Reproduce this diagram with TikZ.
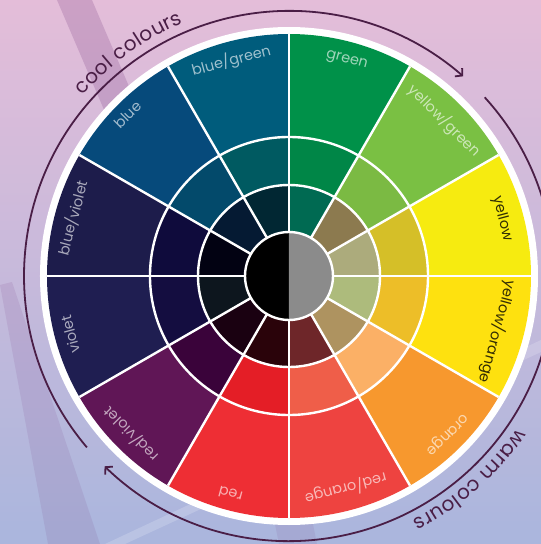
\documentclass[tikz,border=0pt]{standalone}
\usepackage{fontspec}
\usepackage{tikz}
\usetikzlibrary{arrows.meta,decorations.text}

\newfontfamily\wheelfont{Poppins}

\definecolor{sweepcol}{RGB}{74,30,70}
\definecolor{midgrey}{HTML}{8B8B8B}
% outer / middle / inner ring colours
\definecolor{grnO}{HTML}{009149}\definecolor{grnM}{HTML}{008647}\definecolor{grnI}{HTML}{006A52}
\definecolor{ygO}{HTML}{7AC043}\definecolor{ygM}{HTML}{7BBA43}\definecolor{ygI}{HTML}{8C7A4F}
\definecolor{yelO}{HTML}{F6EB10}\definecolor{yelM}{HTML}{D5BF28}\definecolor{yelI}{HTML}{ACAB7C}
\definecolor{yoO}{HTML}{FEE10F}\definecolor{yoM}{HTML}{EDBE28}\definecolor{yoI}{HTML}{ADBB7C}
\definecolor{orO}{HTML}{F7982E}\definecolor{orM}{HTML}{FBB066}\definecolor{orI}{HTML}{AE9360}
\definecolor{roO}{HTML}{EE4340}\definecolor{roM}{HTML}{EF5E49}\definecolor{roI}{HTML}{6E2629}
\definecolor{redO}{HTML}{EE2E34}\definecolor{redM}{HTML}{E41E26}\definecolor{redI}{HTML}{2A030A}
\definecolor{rvO}{HTML}{601656}\definecolor{rvM}{HTML}{3A033A}\definecolor{rvI}{HTML}{1A0111}
\definecolor{vioO}{HTML}{1F1E51}\definecolor{vioM}{HTML}{140D40}\definecolor{vioI}{HTML}{0D161E}
\definecolor{bvO}{HTML}{1D1C4B}\definecolor{bvM}{HTML}{0F0B3C}\definecolor{bvI}{HTML}{020212}
\definecolor{bluO}{HTML}{064A7B}\definecolor{bluM}{HTML}{034A6B}\definecolor{bluI}{HTML}{051A33}
\definecolor{bgO}{HTML}{005C7C}\definecolor{bgM}{HTML}{005A61}\definecolor{bgI}{HTML}{012733}

\begin{document}
\begin{tikzpicture}[x=1pt, y=1pt,
        seglab/.style={font=\wheelfont\fontsize{14.5}{14.5}\selectfont, inner sep=0pt},
        lightlab/.style={seglab, text=white, text opacity=0.62},
        darklab/.style={seglab, text=black, text opacity=0.8},
        ringline/.style={white, line width=2.4pt},
        sweep/.style={sweepcol, line width=1.8pt, -{Straight Barb[length=5pt,width=11pt]}},
        band/.style={fill={rgb,255:red,120;green,60;blue,130}, fill opacity=0.22}]
                \useasboundingbox (-289,-268) rectangle (252,276);
                % backdrop
                \fill[top color={rgb,255:red,228;green,189;blue,217}, middle color={rgb,255:red,210;green,188;blue,220},
                        bottom color={rgb,255:red,170;green,182;blue,221}] (-289,-268) rectangle (252,276);
                \fill[band] (-232,276) -- (-197,276) -- (-137,136) -- (-172,136) -- cycle;
                \fill[band, fill opacity=0.12] (-289,-9) -- (-277,-6) -- (-189,-268) -- (-241,-268) -- cycle;
                \fill[band, fill opacity=0.1] (-14,-248) -- (24,-248) -- (28,-268) -- (-10,-268) -- cycle;
                \fill[white, fill opacity=0.18] (-184,-268) -- (-164,-268) -- (252,-76) -- (252,-64) -- cycle;

                % wheel
                \fill[white] (0,0) circle[radius=249];
                \foreach \a/\co/\cm/\ci in {90/grnO/grnM/grnI, 60/ygO/ygM/ygI, 30/yelO/yelM/yelI,
                        0/yoO/yoM/yoI, -30/orO/orM/orI, -60/roO/roM/roI, -90/redO/redM/redI,
                        -120/rvO/rvM/rvI, -150/vioO/vioM/vioI, 180/bvO/bvM/bvI, 150/bluO/bluM/bluI,
                        120/bgO/bgM/bgI}{
                        \fill[\co] (0,0) -- (\a:242) arc[start angle=\a, delta angle=-30, radius=242] -- cycle;
                        \fill[\cm] (0,0) -- (\a:139) arc[start angle=\a, delta angle=-30, radius=139] -- cycle;
                        \fill[\ci] (0,0) -- (\a:91) arc[start angle=\a, delta angle=-30, radius=91] -- cycle;
                }
                \fill[black] (0,44) arc[start angle=90, end angle=270, radius=44] -- cycle;
                \fill[midgrey] (0,-44) arc[start angle=-90, end angle=90, radius=44] -- cycle;
                \foreach \a in {0,30,...,330}
                        \draw[ringline] (\a:44) -- (\a:242);
                \draw[ringline] (0,0) circle[radius=44] (0,0) circle[radius=91] (0,0) circle[radius=139];

                % names of the hues
                \node[lightlab, rotate=-15] (GRN) at (75:223) {green};
                \node[lightlab, rotate=-45] (YG) at (45:220) {yellow/green};
                \node[darklab, rotate=-75] (YEL) at (15:221) {yellow};
                \node[darklab, rotate=-105] (YO) at (-15:216) {yellow/orange};
                \node[lightlab, rotate=-135] (OR) at (-45:223) {orange};
                \node[lightlab, rotate=-165] (RO) at (-75:220) {red/orange};
                \node[lightlab, rotate=-195] (RED) at (-105:226) {red};
                \node[lightlab, rotate=-225] (RV) at (-135:224) {red/violet};
                \node[lightlab, rotate=-255] (VIO) at (-165:226) {violet};
                \node[lightlab, rotate=75] (BV) at (165:224) {blue/violet};
                \node[lightlab, rotate=45] (BLU) at (135:228) {blue};
                \node[lightlab, rotate=15] (BG) at (105:223) {blue/green};

                % cool and warm sweeps
                \draw[sweep] (220.3:265) arc[start angle=220.3, end angle=48.9, radius=265];
                \draw[sweep] (42.4:265) arc[start angle=42.4, end angle=-134.1, radius=265];
                \path[decorate, decoration={text along path, text align=center, raise=9pt, text color=sweepcol,
                        text={|\wheelfont\fontsize{20}{20}\selectfont|cool colours}}]
                        (150:265) arc[start angle=150, end angle=101.6, radius=265];
                \path[decorate, decoration={text along path, text align=center, raise=9pt, text color=sweepcol,
                        text={|\wheelfont\fontsize{20}{20}\selectfont|warm colours}}]
                        (-20:265) arc[start angle=-20, end angle=-76.8, radius=265];
\end{tikzpicture}
\end{document}
